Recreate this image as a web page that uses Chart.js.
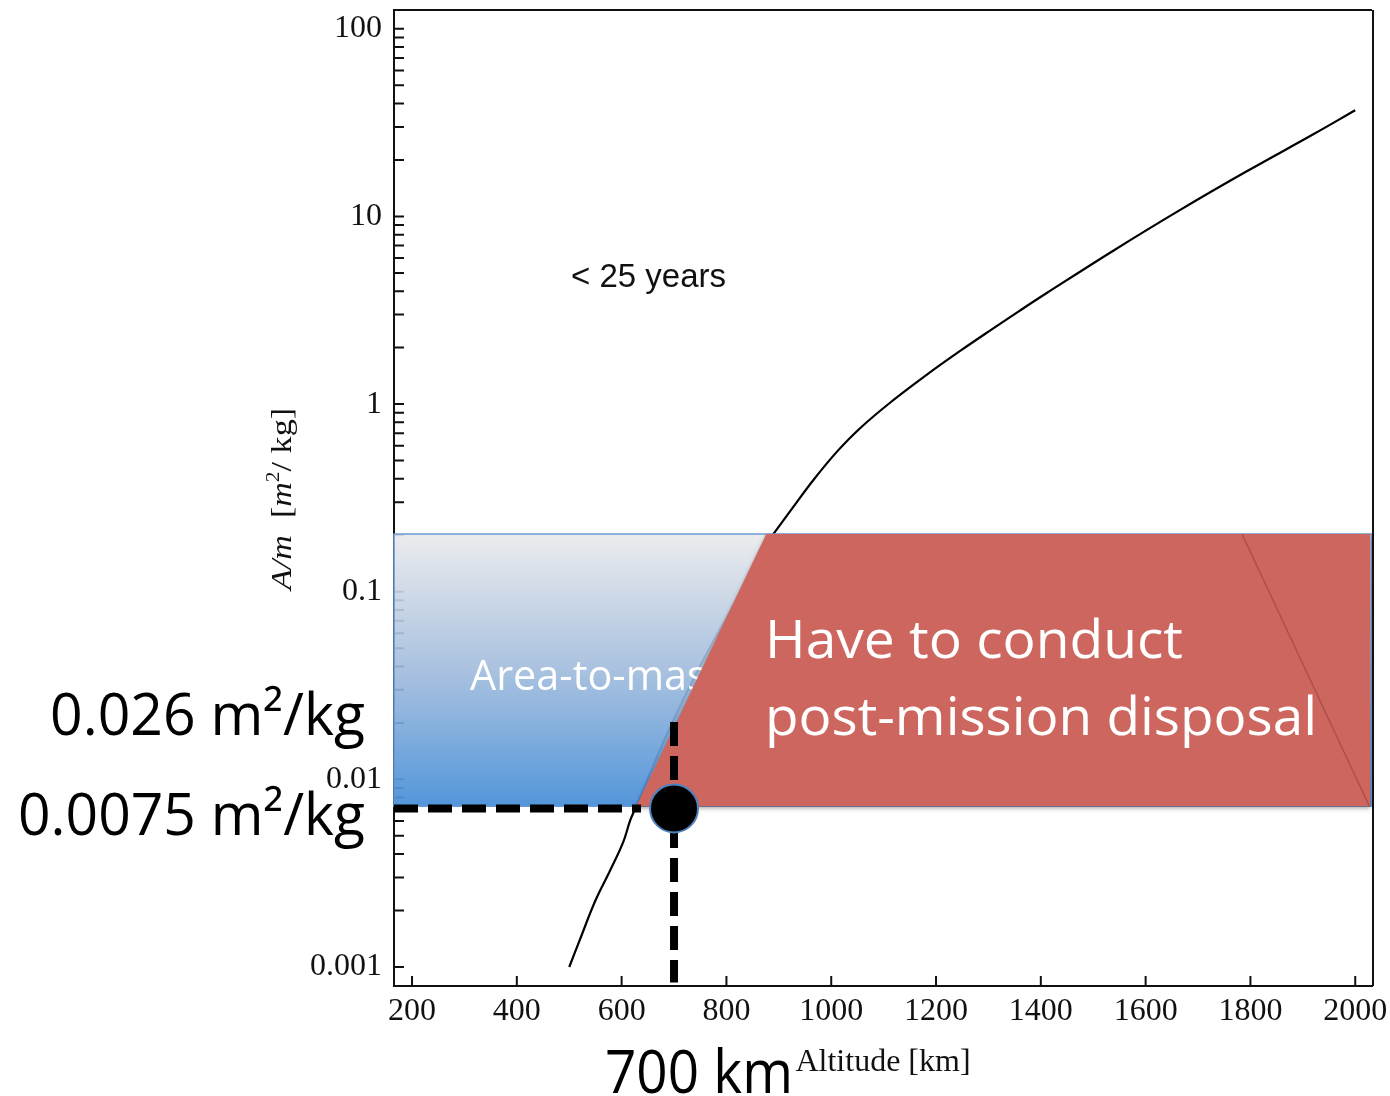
<!DOCTYPE html>
<html>
<head>
<meta charset="utf-8">
<script src="https://cdn.jsdelivr.net/npm/chart.js@4.4.1/dist/chart.umd.min.js"></script>
<style>
  html, body { margin: 0; padding: 0; background: #ffffff; }
  #wrap { width: 1390px; height: 1096px; position: relative; }
</style>
</head>
<body>
<div id="wrap"><canvas id="c" width="1390" height="1096"></canvas></div>
<script>
// ---------- data ----------
const altitudeKm = [500, 520, 550, 578, 603, 616, 626, 673, 699, 736, 763, 801, 839, 870, 893, 928, 966, 1011, 1055, 1119, 1182, 1246, 1310, 1360, 1412, 1539, 1666, 1793, 1920, 2000];
const areaToMass = [0.001, 0.00139, 0.00226, 0.00327, 0.00463, 0.00600, 0.00700, 0.0143, 0.0207, 0.0338, 0.0471, 0.0736, 0.115, 0.170, 0.209, 0.284, 0.394, 0.558, 0.744, 1.053, 1.432, 1.92, 2.54, 3.15, 3.92, 6.59, 10.84, 17.4, 27.4, 36.8];

const xTickValues = [200, 400, 600, 800, 1000, 1200, 1400, 1600, 1800, 2000];
const yDecades = [0.001, 0.01, 0.1, 1, 10, 100];
const yDecadeLabels = ['0.001', '0.01', '0.1', '1', '10', '100'];
const xRange = [165.6, 2032];
const yRange = [0.000792, 126];

// annotation regions (data units)
const bandAltitude = [165.6, 2031];          // blue band, left/right
const bandAreaToMass = [0.00719, 0.203];     // blue band, bottom/top
const redAltitude = [628, 876, 2028.6, 2028.6];
const redAreaToMass = [0.00719, 0.203, 0.203, 0.00719];
const shadowAltitude = [1784, 2027];
const shadowAreaToMass = [0.203, 0.00719];
const markAltitude = 700;
const markAreaToMass = 0.0070;
const hDashAltitude = [165.6, 637];
const vDashAreaToMass = [0.0202, 0.000828];

// ---------- helpers ----------
function yTickList() {
  const out = [];
  for (let i = 0; i < yDecades.length - 1; i++) {
    for (let k = 1; k <= 9; k++) out.push({ value: k * yDecades[i] });
  }
  out.push({ value: yDecades[yDecades.length - 1] });
  return out;
}
function decadeLabel(v) {
  for (let i = 0; i < yDecades.length; i++) {
    if (Math.abs(v - yDecades[i]) / yDecades[i] < 1e-6) return yDecadeLabels[i];
  }
  return '';
}
function fitText(ctx, str, x, y, font, width, align, color, measureStr) {
  ctx.save();
  ctx.font = font;
  ctx.fillStyle = color;
  ctx.textAlign = align;
  ctx.textBaseline = 'alphabetic';
  const w = ctx.measureText(measureStr || str).width;
  const sx = width ? width / w : 1;
  ctx.translate(x, y);
  ctx.scale(sx, 1);
  ctx.fillText(str, 0, 0);
  ctx.restore();
}

const SANS = '"Open Sans"';
const SERIF = '"Liberation Serif"';

const axisDecor = {
  id: 'axisDecor',
  beforeDatasetsDraw(chart) {
    const { ctx, chartArea: a, scales: { x, y } } = chart;
    ctx.save();
    ctx.strokeStyle = '#111';
    ctx.lineWidth = 2;
    ctx.beginPath();
    y.ticks.forEach(t => {
      const py = y.getPixelForValue(t.value);
      ctx.moveTo(a.left, py); ctx.lineTo(a.left + 10, py);
    });
    x.ticks.forEach(t => {
      const px = x.getPixelForValue(t.value);
      ctx.moveTo(px, a.bottom); ctx.lineTo(px, a.bottom - 10);
    });
    ctx.stroke();
    ctx.beginPath();
    ctx.moveTo(a.left, a.top); ctx.lineTo(a.right, a.top);
    ctx.stroke();
    ctx.restore();
  }
};

const overlays = {
  id: 'overlays',
  afterDatasetsDraw(chart) {
    const { ctx, chartArea: a, scales: { x, y } } = chart;
    ctx.save();

    // blue band
    const bx0 = x.getPixelForValue(bandAltitude[0]);
    const bx1 = x.getPixelForValue(bandAltitude[1]);
    const by0 = y.getPixelForValue(bandAreaToMass[1]);
    const by1 = y.getPixelForValue(bandAreaToMass[0]);
    const g = ctx.createLinearGradient(0, by0, 0, by1);
    g.addColorStop(0, 'rgba(234,234,236,0.9)');
    g.addColorStop(0.5, 'rgba(160,187,220,0.9)');
    g.addColorStop(1, 'rgba(72,143,216,0.94)');
    ctx.fillStyle = g;
    ctx.fillRect(bx0, by0, bx1 - bx0, by1 - by0);
    ctx.strokeStyle = '#6a9ad6';
    ctx.lineWidth = 1.5;
    ctx.strokeRect(bx0, by0, bx1 - bx0, by1 - by0);

    // white text on blue
    fitText(ctx, 'Area-to-mass', 470, 690, '400 42px ' + SANS, 217, 'left', '#ffffff', 'Area-to-ma');

    // red zone
    ctx.save();
    ctx.shadowColor = 'rgba(0,0,0,0.35)';
    ctx.shadowBlur = 4;
    ctx.shadowOffsetY = 2;
    ctx.fillStyle = '#cd665f';
    ctx.beginPath();
    redAltitude.forEach((alt, i) => {
      const px = x.getPixelForValue(alt), py = y.getPixelForValue(redAreaToMass[i]);
      if (i === 0) ctx.moveTo(px, py); else ctx.lineTo(px, py);
    });
    ctx.closePath();
    ctx.fill();
    ctx.restore();

    // faint shadow line in red zone
    ctx.strokeStyle = 'rgba(150,60,55,0.55)';
    ctx.lineWidth = 1.5;
    ctx.beginPath();
    ctx.moveTo(x.getPixelForValue(shadowAltitude[0]), y.getPixelForValue(shadowAreaToMass[0]));
    ctx.lineTo(x.getPixelForValue(shadowAltitude[1]), y.getPixelForValue(shadowAreaToMass[1]));
    ctx.stroke();

    // white text on red
    fitText(ctx, 'Have to conduct', 765, 658, '400 53px ' + SANS, 418, 'left', '#ffffff');
    fitText(ctx, 'post-mission disposal', 765, 735, '400 53px ' + SANS, 552, 'left', '#ffffff');

    // dashed guide lines
    const mx = x.getPixelForValue(markAltitude);
    const my = y.getPixelForValue(markAreaToMass);
    ctx.strokeStyle = '#000';
    ctx.lineWidth = 8;
    ctx.setLineDash([24, 10]);
    ctx.beginPath();
    ctx.moveTo(x.getPixelForValue(hDashAltitude[0]), my);
    ctx.lineTo(x.getPixelForValue(hDashAltitude[1]), my);
    ctx.stroke();
    ctx.beginPath();
    ctx.moveTo(mx, y.getPixelForValue(vDashAreaToMass[0]));
    ctx.lineTo(mx, y.getPixelForValue(vDashAreaToMass[1]));
    ctx.stroke();
    ctx.setLineDash([]);

    // marker
    ctx.beginPath();
    ctx.arc(mx, my, 24, 0, Math.PI * 2);
    ctx.fillStyle = '#000';
    ctx.fill();
    ctx.strokeStyle = '#4f81bd';
    ctx.lineWidth = 2;
    ctx.stroke();

    // right frame
    ctx.strokeStyle = '#111';
    ctx.lineWidth = 2;
    ctx.beginPath();
    ctx.moveTo(a.right + 1, a.top); ctx.lineTo(a.right + 1, a.bottom);
    ctx.stroke();

    ctx.restore();
  },
  afterDraw(chart) {
    const { ctx } = chart;
    // text annotations
    ctx.save();
    ctx.font = '33px "Liberation Sans"';
    ctx.fillStyle = '#111';
    ctx.textAlign = 'left';
    ctx.textBaseline = 'alphabetic';
    ctx.fillText('< 25 years', 571, 287);
    ctx.restore();

    fitText(ctx, '0.026 m²/kg', 365, 735, '400 58px ' + SANS, 315, 'right', '#000');
    fitText(ctx, '0.0075 m²/kg', 365, 835, '400 58px ' + SANS, 347, 'right', '#000');
    fitText(ctx, '700 km', 605, 1093, '400 60px ' + SANS, 188, 'left', '#000');

    // x-axis title
    ctx.save();
    ctx.font = '32px ' + SERIF;
    ctx.fillStyle = '#111';
    ctx.textAlign = 'center';
    ctx.textBaseline = 'alphabetic';
    ctx.fillText('Altitude [km]', 883, 1071);
    ctx.restore();

    // y-axis title (rotated, mixed italic)
    const segs = [
      ['A/m', 'italic 30px ' + SERIF, 0],
      ['  [', '30px ' + SERIF, 0],
      ['m', 'italic 30px ' + SERIF, 0],
      ['2', '19px ' + SERIF, -12],
      ['/ kg]', '30px ' + SERIF, 0]
    ];
    ctx.save();
    let W = 0;
    const ws = segs.map(s => { ctx.font = s[1]; const w = ctx.measureText(s[0]).width; W += w; return w; });
    const sx = 182 / W;
    ctx.translate(291, 499);
    ctx.rotate(-Math.PI / 2);
    ctx.scale(sx, 1);
    ctx.fillStyle = '#111';
    ctx.textAlign = 'left';
    ctx.textBaseline = 'alphabetic';
    let cx = -W / 2;
    segs.forEach((s, i) => { ctx.font = s[1]; ctx.fillText(s[0], cx, s[2]); cx += ws[i]; });
    ctx.restore();
  }
};

const ctx = document.getElementById('c').getContext('2d');
new Chart(ctx, {
  type: 'line',
  data: {
    datasets: [{
      data: altitudeKm.map((v, i) => ({ x: v, y: areaToMass[i] })),
      borderColor: '#000',
      borderWidth: 2.2,
      pointRadius: 0,
      tension: 0.4,
      fill: false
    }]
  },
  options: {
    responsive: false,
    animation: false,
    devicePixelRatio: 1,
    layout: { padding: { left: 0, right: 18, top: 10, bottom: 0 } },
    plugins: { legend: { display: false }, tooltip: { enabled: false } },
    scales: {
      x: {
        type: 'linear',
        min: xRange[0],
        max: xRange[1],
        afterBuildTicks: s => { s.ticks = xTickValues.map(v => ({ value: v })); },
        afterFit: s => { s.height = 110; s.paddingLeft = 0; s.paddingRight = 0; },
        grid: { display: false, drawTicks: false },
        border: { display: true, color: '#111', width: 2 },
        ticks: {
          autoSkip: false, maxRotation: 0, padding: 6, color: '#111',
          font: { family: 'Liberation Serif', size: 32 },
          callback: v => String(v)
        }
      },
      y: {
        type: 'logarithmic',
        min: yRange[0],
        max: yRange[1],
        afterBuildTicks: s => { s.ticks = yTickList(); },
        afterFit: s => { s.width = 394; s.paddingTop = 0; s.paddingBottom = 0; },
        grid: { display: false, drawTicks: false },
        border: { display: true, color: '#111', width: 2 },
        ticks: {
          autoSkip: false, padding: 12, color: '#111',
          font: { family: 'Liberation Serif', size: 32 },
          callback: v => decadeLabel(v)
        }
      }
    }
  },
  plugins: [axisDecor, overlays]
});
</script>
</body>
</html>
